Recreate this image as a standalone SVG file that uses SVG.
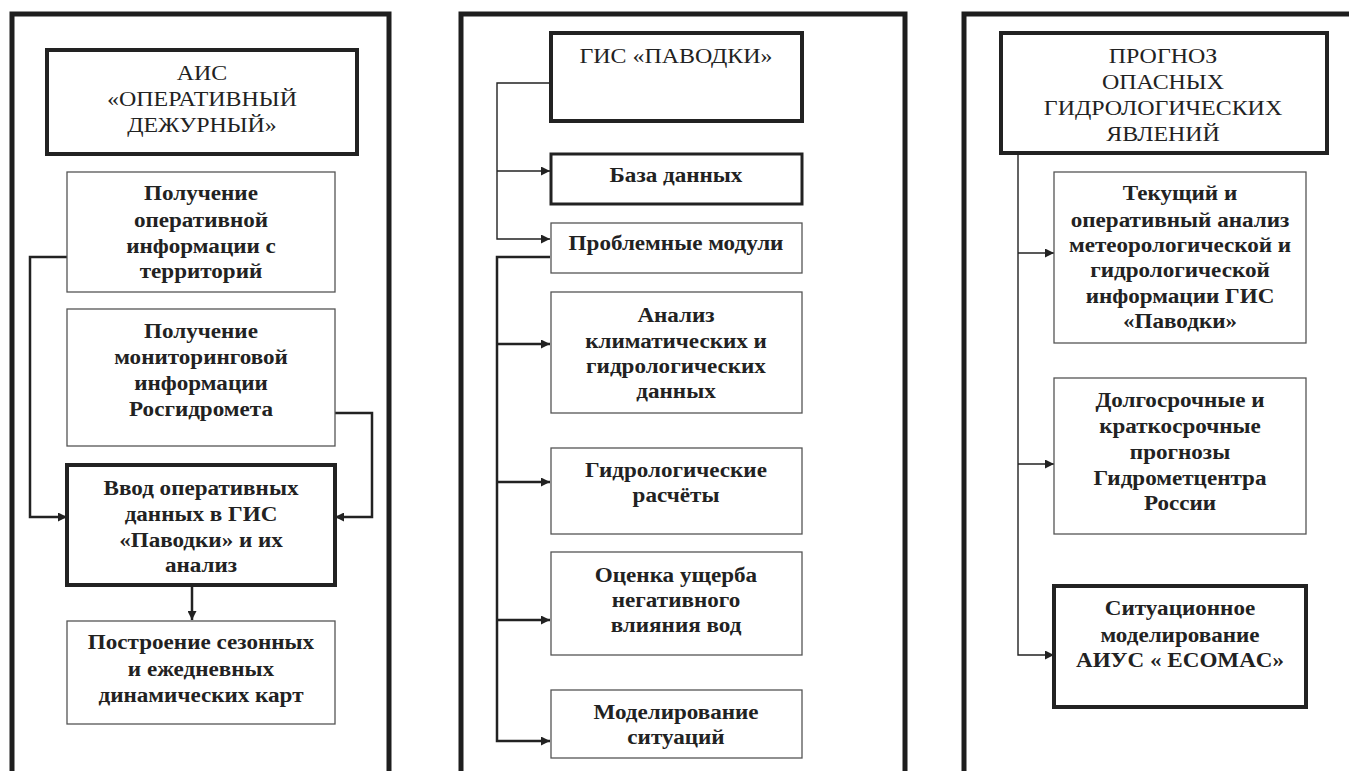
<svg xmlns="http://www.w3.org/2000/svg" width="1349" height="771" viewBox="0 0 1349 771">
<defs>
<marker id="ah" viewBox="0 0 10 10" refX="10" refY="5" markerWidth="10" markerHeight="9" markerUnits="userSpaceOnUse" orient="auto">
<path d="M0,0 L10,5 L0,10 Z" fill="#222"/>
</marker>
<style>
.frame{fill:none;stroke:#1e1e1e;stroke-width:5}
.thick{fill:#fff;stroke:#222;stroke-width:4}
.mid{fill:#fff;stroke:#222;stroke-width:3}
.thin{fill:#fff;stroke:#555;stroke-width:1.3}
.c1{fill:none;stroke:#222;stroke-width:1.4}
.c2{fill:none;stroke:#222;stroke-width:2.5}
text{font-family:"Liberation Serif","Times New Roman",serif;fill:#222;text-anchor:middle}
.b{font-weight:bold;font-size:21px}
.r{font-size:21px}
</style>
</defs>
<rect width="1349" height="771" fill="#fff"/>

<g id="frames">
<path class="frame" d="M12,776 V14 H389 V776"/>
<path class="frame" d="M461,776 V14 H905 V776"/>
<path class="frame" d="M964,776 V14 H1355"/>
</g>

<g id="connectors">
<path class="c2" d="M67,257 H30 V517 H67" marker-end="url(#ah)"/>
<path class="c2" d="M335,413 H372 V517 H335" marker-end="url(#ah)"/>
<path class="c2" d="M192,585 V620" marker-end="url(#ah)"/>
<path class="c1" d="M550,83 H497 V239 H550" marker-end="url(#ah)"/>
<path class="c1" d="M497,171 H550" marker-end="url(#ah)"/>
<path class="c2" d="M550,257 H497 V741 H550" marker-end="url(#ah)"/>
<path class="c2" d="M497,344 H550" marker-end="url(#ah)"/>
<path class="c2" d="M497,482 H550" marker-end="url(#ah)"/>
<path class="c2" d="M497,620 H550" marker-end="url(#ah)"/>
<path class="c1" d="M1018,153 V655 H1054" marker-end="url(#ah)"/>
<path class="c1" d="M1018,253 H1054" marker-end="url(#ah)"/>
<path class="c1" d="M1018,464 H1054" marker-end="url(#ah)"/>
</g>

<g id="n-ais">
<rect class="thick" x="47" y="50" width="310" height="104"/>
<text class="r" transform="translate(202,80) scale(1.14,1)">АИС</text>
<text class="r" transform="translate(202,106) scale(1.14,1)">«ОПЕРАТИВНЫЙ</text>
<text class="r" transform="translate(202,132) scale(1.14,1)">ДЕЖУРНЫЙ»</text>
</g>
<g id="n-p1">
<rect class="thin" x="67" y="172" width="268" height="120"/>
<text class="b" transform="translate(201,200) scale(1.1,1)">Получение</text>
<text class="b" transform="translate(201,227) scale(1.1,1)">оперативной</text>
<text class="b" transform="translate(201,253) scale(1.1,1)">информации с</text>
<text class="b" transform="translate(201,278) scale(1.1,1)">территорий</text>
</g>
<g id="n-p2">
<rect class="thin" x="67" y="309" width="268" height="137"/>
<text class="b" transform="translate(201,338) scale(1.1,1)">Получение</text>
<text class="b" transform="translate(201,364) scale(1.1,1)">мониторинговой</text>
<text class="b" transform="translate(201,390) scale(1.1,1)">информации</text>
<text class="b" transform="translate(201,416) scale(1.1,1)">Росгидромета</text>
</g>
<g id="n-input">
<rect class="thick" x="67" y="465" width="268" height="120"/>
<text class="b" transform="translate(201,495) scale(1.1,1)">Ввод оперативных</text>
<text class="b" transform="translate(201,521) scale(1.1,1)">данных в ГИС</text>
<text class="b" transform="translate(201,547) scale(1.1,1)">«Паводки» и их</text>
<text class="b" transform="translate(201,572) scale(1.1,1)">анализ</text>
</g>
<g id="n-maps">
<rect class="thin" x="67" y="621" width="268" height="103"/>
<text class="b" transform="translate(201,649) scale(1.1,1)">Построение сезонных</text>
<text class="b" transform="translate(201,676) scale(1.1,1)">и ежедневных</text>
<text class="b" transform="translate(201,702) scale(1.1,1)">динамических карт</text>
</g>

<g id="n-gis">
<rect class="thick" x="551" y="33" width="251" height="88"/>
<text class="r" transform="translate(676,63) scale(1.14,1)">ГИС «ПАВОДКИ»</text>
</g>
<g id="n-db">
<rect class="mid" x="551" y="154" width="251" height="50"/>
<text class="b" transform="translate(676,182) scale(1.1,1)">База данных</text>
</g>
<g id="n-mod">
<rect class="thin" x="551" y="223" width="251" height="50"/>
<text class="b" transform="translate(676,250) scale(1.1,1)">Проблемные модули</text>
</g>
<g id="n-clim">
<rect class="thin" x="551" y="292" width="251" height="121"/>
<text class="b" transform="translate(676,322) scale(1.1,1)">Анализ</text>
<text class="b" transform="translate(676,348) scale(1.1,1)">климатических и</text>
<text class="b" transform="translate(676,373) scale(1.1,1)">гидрологических</text>
<text class="b" transform="translate(676,398) scale(1.1,1)">данных</text>
</g>
<g id="n-calc">
<rect class="thin" x="551" y="448" width="251" height="86"/>
<text class="b" transform="translate(676,477) scale(1.1,1)">Гидрологические</text>
<text class="b" transform="translate(676,502) scale(1.1,1)">расчёты</text>
</g>
<g id="n-dmg">
<rect class="thin" x="551" y="552" width="251" height="103"/>
<text class="b" transform="translate(676,582) scale(1.1,1)">Оценка ущерба</text>
<text class="b" transform="translate(676,607) scale(1.1,1)">негативного</text>
<text class="b" transform="translate(676,632) scale(1.1,1)">влияния вод</text>
</g>
<g id="n-sim">
<rect class="thin" x="551" y="690" width="251" height="68"/>
<text class="b" transform="translate(676,719) scale(1.1,1)">Моделирование</text>
<text class="b" transform="translate(676,744) scale(1.1,1)">ситуаций</text>
</g>

<g id="n-forecast">
<rect class="thick" x="1001" y="33" width="326" height="120"/>
<text class="r" transform="translate(1163,63) scale(1.14,1)">ПРОГНОЗ</text>
<text class="r" transform="translate(1163,89) scale(1.14,1)">ОПАСНЫХ</text>
<text class="r" transform="translate(1163,115) scale(1.14,1)">ГИДРОЛОГИЧЕСКИХ</text>
<text class="r" transform="translate(1163,141) scale(1.14,1)">ЯВЛЕНИЙ</text>
</g>
<g id="n-cur">
<rect class="thin" x="1054" y="172" width="252" height="171"/>
<text class="b" transform="translate(1180,200) scale(1.1,1)">Текущий и</text>
<text class="b" transform="translate(1180,227) scale(1.1,1)">оперативный анализ</text>
<text class="b" transform="translate(1180,252) scale(1.1,1)">метеорологической и</text>
<text class="b" transform="translate(1180,277) scale(1.1,1)">гидрологической</text>
<text class="b" transform="translate(1180,303) scale(1.1,1)">информации  ГИС</text>
<text class="b" transform="translate(1180,328) scale(1.1,1)">«Паводки»</text>
</g>
<g id="n-long">
<rect class="thin" x="1054" y="378" width="252" height="156"/>
<text class="b" transform="translate(1180,407) scale(1.1,1)">Долгосрочные и</text>
<text class="b" transform="translate(1180,433) scale(1.1,1)">краткосрочные</text>
<text class="b" transform="translate(1180,459) scale(1.1,1)">прогнозы</text>
<text class="b" transform="translate(1180,485) scale(1.1,1)">Гидрометцентра</text>
<text class="b" transform="translate(1180,510) scale(1.1,1)">России</text>
</g>
<g id="n-ecomac">
<rect class="thick" x="1054" y="586" width="252" height="121"/>
<text class="b" transform="translate(1180,615) scale(1.1,1)">Ситуационное</text>
<text class="b" transform="translate(1180,642) scale(1.1,1)">моделирование</text>
<text class="b" transform="translate(1180,667) scale(1.1,1)">АИУС « ECOMAC»</text>
</g>
</svg>
